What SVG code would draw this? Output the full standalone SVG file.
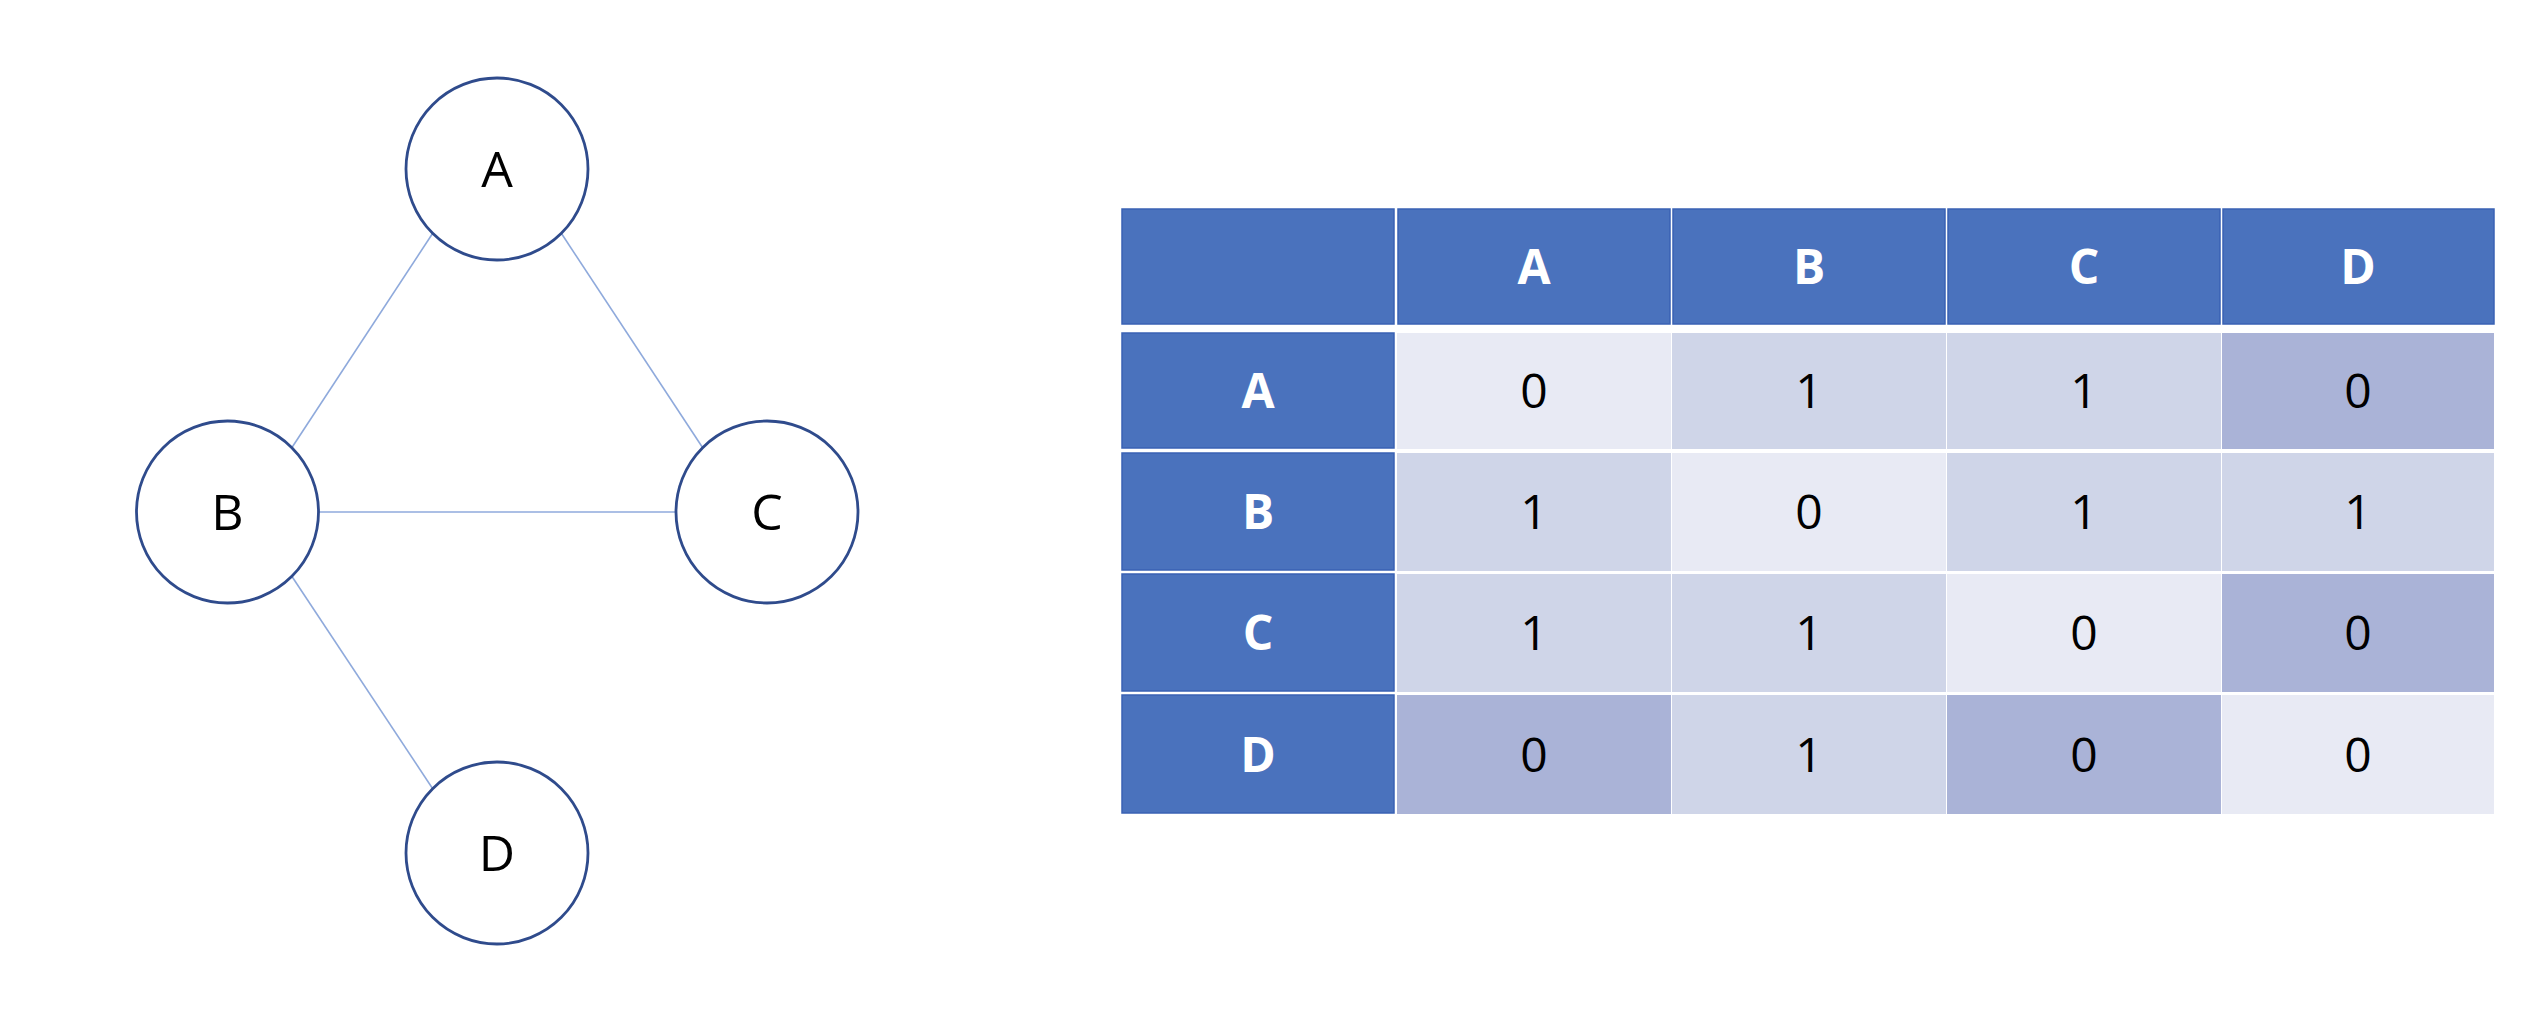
<svg xmlns="http://www.w3.org/2000/svg" width="2548" height="1018" viewBox="0 0 2548 1018">
<style>
.node circle{fill:#ffffff;stroke:#2f4b8c;stroke-width:2.8}
.node text{font-family:"Open Sans","Noto Sans",sans-serif;font-size:50px;fill:#000;text-anchor:middle}
.edge{stroke:#8faadc;stroke-width:1.6;fill:none}
.hd{fill:#4a72bd;stroke:#3a62b4;stroke-width:1.5}
.l{fill:#e8eaf4}
.m{fill:#cfd5e8}
.d{fill:#aab3d7}
.ht{font-family:"Open Sans","Noto Sans",sans-serif;font-size:48px;font-weight:bold;fill:#fff;text-anchor:middle}
.ct{font-family:"Open Sans","Noto Sans",sans-serif;font-size:48px;fill:#000;text-anchor:middle}
</style>
<rect width="2548" height="1018" fill="#ffffff"/>
<g id="connectors">
<line class="edge" x1="432.7" y1="233.3" x2="291.8" y2="447.7"/>
<line class="edge" x1="561.3" y1="233.3" x2="702.7" y2="447.7"/>
<line class="edge" x1="318.5" y1="512" x2="676" y2="512"/>
<line class="edge" x1="291.8" y1="576.3" x2="432.7" y2="788.7"/>
</g>
<g id="node-A" class="node"><circle cx="497" cy="169" r="91"/><text x="497" y="187">A</text></g>
<g id="node-B" class="node"><circle cx="227.5" cy="512" r="91"/><text x="227.5" y="530">B</text></g>
<g id="node-C" class="node"><circle cx="767" cy="512" r="91"/><text x="767" y="530">C</text></g>
<g id="node-D" class="node"><circle cx="497" cy="853" r="91"/><text x="497" y="871">D</text></g>
<g id="matrix">
<g id="header">
<rect class="hd" x="1122" y="209" width="272" height="115"/>
<rect class="hd" x="1398" y="209" width="272" height="115"/>
<rect class="hd" x="1673" y="209" width="272" height="115"/>
<rect class="hd" x="1948" y="209" width="272" height="115"/>
<rect class="hd" x="2223" y="209" width="271" height="115"/>
<text class="ht" x="1534" y="284">A</text>
<text class="ht" x="1809" y="284">B</text>
<text class="ht" x="2084" y="284">C</text>
<text class="ht" x="2358" y="284">D</text>
</g>
<g id="row-A">
<rect class="hd" x="1122" y="333" width="272" height="115"/>
<rect class="l" x="1397" y="333" width="274" height="116"/>
<rect class="m" x="1672" y="333" width="274" height="116"/>
<rect class="m" x="1947" y="333" width="274" height="116"/>
<rect class="d" x="2222" y="333" width="272" height="116"/>
<text class="ht" x="1258" y="408">A</text>
<text class="ct" x="1534" y="408">0</text>
<text class="ct" x="1809" y="408">1</text>
<text class="ct" x="2084" y="408">1</text>
<text class="ct" x="2358" y="408">0</text>
</g>
<g id="row-B">
<rect class="hd" x="1122" y="453" width="272" height="117"/>
<rect class="m" x="1397" y="453" width="274" height="118"/>
<rect class="l" x="1672" y="453" width="274" height="118"/>
<rect class="m" x="1947" y="453" width="274" height="118"/>
<rect class="m" x="2222" y="453" width="272" height="118"/>
<text class="ht" x="1258" y="529">B</text>
<text class="ct" x="1534" y="529">1</text>
<text class="ct" x="1809" y="529">0</text>
<text class="ct" x="2084" y="529">1</text>
<text class="ct" x="2358" y="529">1</text>
</g>
<g id="row-C">
<rect class="hd" x="1122" y="574" width="272" height="117"/>
<rect class="m" x="1397" y="574" width="274" height="118"/>
<rect class="m" x="1672" y="574" width="274" height="118"/>
<rect class="l" x="1947" y="574" width="274" height="118"/>
<rect class="d" x="2222" y="574" width="272" height="118"/>
<text class="ht" x="1258" y="650">C</text>
<text class="ct" x="1534" y="650">1</text>
<text class="ct" x="1809" y="650">1</text>
<text class="ct" x="2084" y="650">0</text>
<text class="ct" x="2358" y="650">0</text>
</g>
<g id="row-D">
<rect class="hd" x="1122" y="695" width="272" height="118"/>
<rect class="d" x="1397" y="695" width="274" height="119"/>
<rect class="m" x="1672" y="695" width="274" height="119"/>
<rect class="d" x="1947" y="695" width="274" height="119"/>
<rect class="l" x="2222" y="695" width="272" height="119"/>
<text class="ht" x="1258" y="772">D</text>
<text class="ct" x="1534" y="772">0</text>
<text class="ct" x="1809" y="772">1</text>
<text class="ct" x="2084" y="772">0</text>
<text class="ct" x="2358" y="772">0</text>
</g>
</g>
</svg>
